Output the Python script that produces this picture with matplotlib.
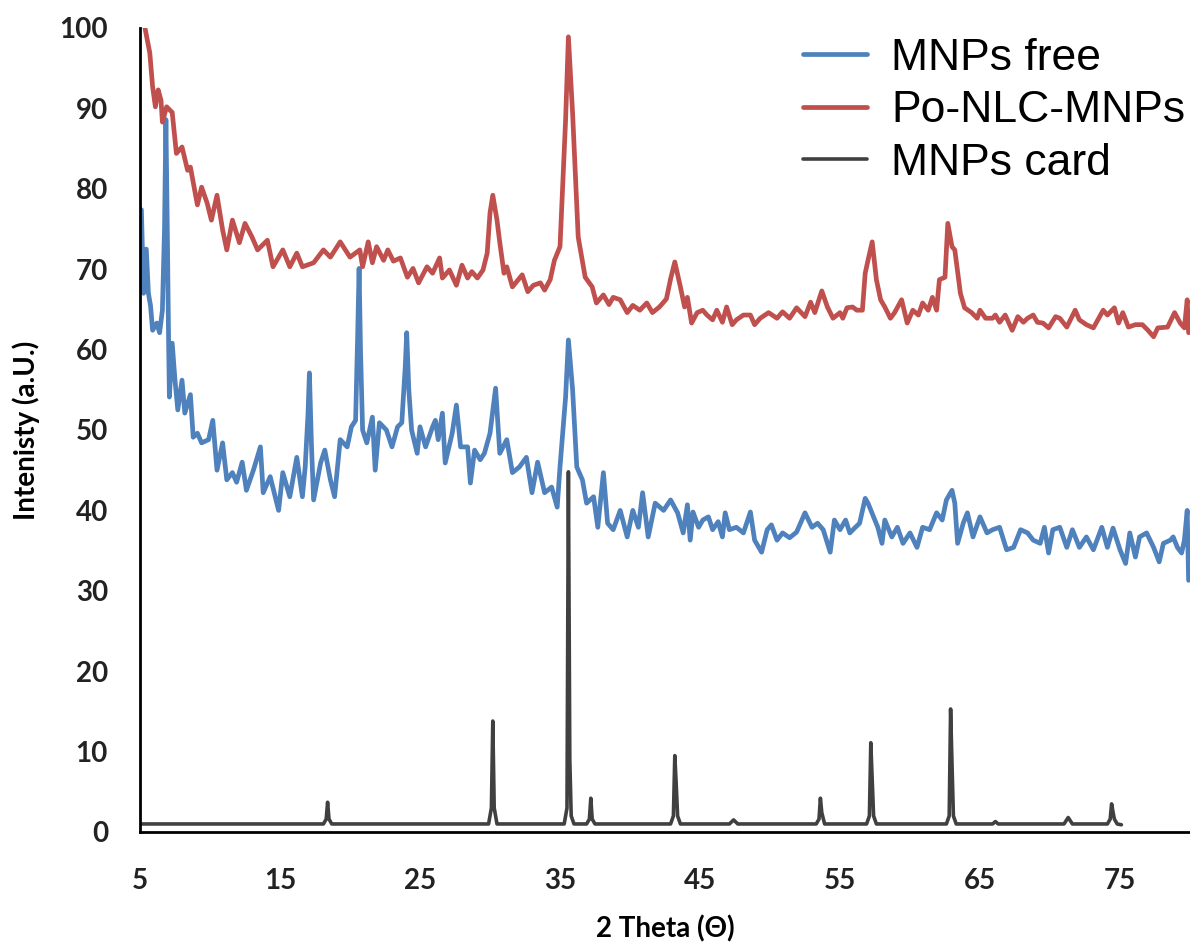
import matplotlib
matplotlib.use("Agg")
import matplotlib.pyplot as plt

# ---------------- data ----------------
red_x = [5.3, 5.7, 5.9, 6.1, 6.3, 6.5, 6.6, 6.9, 7.3, 7.6, 8.0, 8.4, 8.6, 9.1, 9.4, 9.8,
         10.1, 10.5, 10.9, 11.2, 11.6, 12.1, 12.5, 13.0, 13.4, 14.1, 14.5, 15.2, 15.7, 16.2,
         16.6, 17.4, 18.1, 18.6, 19.3, 20.0, 20.7, 20.9, 21.3, 21.6, 21.9, 22.4, 22.7, 23.1,
         23.6, 24.1, 24.5, 24.9, 25.5, 25.9, 26.4, 26.6, 27.1, 27.6, 28.0, 28.4, 28.7, 29.1,
         29.5, 29.8, 30.0, 30.2, 30.5, 30.7, 31.0, 31.2, 31.6, 32.3, 32.7, 33.1, 33.6, 33.9,
         34.3, 34.6, 35.0, 35.4, 35.6, 35.9, 36.3, 36.8, 37.3, 37.6, 38.1, 38.5, 38.8, 39.3, 39.8,
         40.2, 40.7, 41.2, 41.6, 42.1, 42.6, 42.9, 43.2, 43.6, 43.9, 44.1, 44.4, 44.8, 45.2, 45.5,
         45.9, 46.2, 46.6, 46.9, 47.3, 47.6, 48.1, 48.6, 48.9, 49.3, 49.9, 50.5, 50.9, 51.4,
         51.9, 52.5, 52.9, 53.2, 53.7, 54.1, 54.5, 55.0, 55.2, 55.5, 55.9, 56.2, 56.6, 56.8,
         57.0, 57.3, 57.6, 57.9, 58.2, 58.6, 58.9, 59.4, 59.8, 60.2, 60.6, 60.9, 61.3, 61.6,
         61.9, 62.1, 62.5, 62.7, 63.0, 63.2, 63.6, 63.9, 64.4, 64.8, 65.0, 65.4, 65.9, 66.1,
         66.4, 66.8, 67.3, 67.7, 68.1, 68.4, 68.8, 69.1, 69.5, 69.9, 70.4, 70.7, 71.2, 71.8,
         72.1, 72.6, 73.1, 73.8, 74.1, 74.6, 74.9, 75.2, 75.6, 76.1, 76.6, 77.0, 77.4, 77.7,
         78.4, 78.9, 79.3, 79.6, 79.8, 79.9]
red_y = [100.5, 96.9, 92.7, 90.2, 92.3, 91.0, 88.3, 90.2, 89.5, 84.4, 85.2, 82.3, 82.7, 78.0, 80.2, 78.2,
         76.1, 79.2, 74.9, 72.4, 76.1, 73.3, 75.7, 74.0, 72.4, 73.6, 70.3, 72.4, 70.3, 72.0,
         70.3, 70.8, 72.4, 71.5, 73.4, 71.5, 72.4, 70.3, 73.4, 70.8, 72.8, 71.1, 72.4, 71.0,
         71.4, 69.0, 70.1, 68.3, 70.3, 69.5, 71.4, 68.9, 69.9, 68.0, 70.5, 68.9, 69.7, 68.9,
         69.9, 72.0, 77.0, 79.2, 76.1, 73.3, 69.5, 70.3, 67.8, 69.3, 67.2, 68.0, 68.3, 67.4,
         68.7, 71.1, 72.8, 88.6, 98.9, 89.4, 74.0, 69.0, 67.8, 65.8, 66.8, 65.6, 66.5, 66.2, 64.6,
         65.5, 64.9, 65.8, 64.6, 65.3, 66.3, 68.8, 70.9, 67.8, 65.3, 66.5, 63.3, 64.6, 64.9, 64.3,
         63.7, 64.9, 63.4, 65.3, 63.1, 63.7, 64.3, 64.3, 63.1, 63.9, 64.6, 63.9, 64.7, 63.9,
         65.2, 64.1, 65.9, 64.6, 67.3, 65.3, 63.9, 64.6, 63.9, 65.2, 65.3, 64.9, 64.9, 69.5,
         71.1, 73.4, 68.7, 66.2, 65.3, 63.9, 64.6, 66.2, 63.3, 64.9, 64.3, 65.8, 64.9, 66.5,
         64.9, 68.7, 69.0, 75.7, 72.8, 72.4, 67.0, 65.2, 64.6, 63.9, 64.9, 63.9, 63.9, 64.3,
         63.4, 64.3, 62.4, 64.1, 63.4, 63.9, 64.3, 63.4, 63.3, 62.7, 64.1, 63.9, 62.8, 64.9,
         63.7, 63.1, 62.7, 64.9, 64.3, 65.2, 63.3, 64.6, 62.8, 63.1, 63.1, 62.4, 61.6, 62.7,
         62.8, 64.6, 63.3, 62.7, 66.2, 62.1]

blue_x = [5.1, 5.25, 5.45, 5.6, 5.75, 5.9, 6.2, 6.4, 6.6, 6.75, 6.85, 6.95, 7.05, 7.1, 7.3, 7.5,
          7.7, 8.0, 8.2, 8.6, 8.8, 9.1, 9.4, 9.9, 10.2, 10.5, 10.9, 11.2, 11.6, 11.9, 12.3, 12.6,
          13.1, 13.6, 13.8, 14.3, 14.9, 15.2, 15.7, 16.2, 16.6, 16.8, 17.0, 17.1, 17.25, 17.4,
          17.9, 18.2, 18.6, 18.9, 19.3, 19.8, 20.1, 20.4, 20.55, 20.65, 20.75, 20.9, 21.2, 21.6,
          21.8, 22.1, 22.6, 23.0, 23.4, 23.7, 23.95, 24.05, 24.2, 24.4, 24.8, 25.0, 25.4, 25.9,
          26.1, 26.3, 26.6, 26.8, 27.3, 27.6, 27.9, 28.4, 28.6, 28.9, 29.3, 29.6, 30.0, 30.4,
          30.7, 31.2, 31.6, 32.1, 32.6, 33.0, 33.4, 33.9, 34.4, 34.8, 35.0, 35.4, 35.6, 35.9,
          36.2, 36.6, 36.9, 37.4, 37.7, 38.1, 38.4, 38.8, 39.3, 39.8, 40.2, 40.6, 40.9, 41.3,
          41.8, 42.4, 42.9, 43.4, 43.8, 44.1, 44.3, 44.5, 44.9, 45.2, 45.6, 45.9, 46.3, 46.6,
          46.8, 47.1, 47.6, 48.1, 48.6, 48.9, 49.4, 49.8, 50.1, 50.5, 50.9, 51.4, 51.9, 52.5,
          53.0, 53.4, 53.8, 54.3, 54.6, 55.0, 55.4, 55.7, 56.1, 56.4, 56.8, 57.0, 57.4, 57.7,
          58.0, 58.2, 58.7, 59.1, 59.5, 60.0, 60.5, 60.9, 61.4, 61.9, 62.3, 62.6, 63.0, 63.2,
          63.4, 63.8, 64.1, 64.5, 65.0, 65.5, 65.9, 66.4, 66.9, 67.4, 67.9, 68.4, 68.8, 69.3,
          69.6, 69.9, 70.2, 70.7, 71.2, 71.6, 72.1, 72.6, 73.1, 73.7, 74.1, 74.5, 75.0, 75.4,
          75.7, 76.1, 76.4, 76.9, 77.4, 77.8, 78.1, 78.6, 78.8, 79.1, 79.4, 79.6, 79.8, 79.9]
blue_y = [77.4, 67.0, 72.5, 67.0, 65.5, 62.4, 63.3, 62.1, 64.9, 75.0, 88.6, 75.0, 60.0, 54.1, 60.8, 56.2,
          52.5, 56.2, 52.1, 54.4, 49.1, 49.6, 48.4, 48.8, 51.2, 45.0, 48.4, 43.8, 44.7, 43.5, 46.0, 42.5,
          45.0, 47.9, 42.2, 44.2, 40.0, 44.7, 41.7, 46.6, 41.7, 45.4, 52.0, 57.1, 48.0, 41.3,
          45.9, 47.5, 43.8, 41.7, 48.8, 47.9, 50.4, 51.2, 62.0, 70.1, 60.0, 50.0, 48.4, 51.6,
          45.0, 50.9, 50.0, 47.9, 50.4, 50.9, 58.0, 62.1, 55.0, 50.0, 47.1, 50.4, 47.9, 50.4,
          51.2, 48.8, 52.1, 45.9, 49.6, 53.1, 47.9, 47.9, 43.4, 47.5, 46.3, 47.1, 49.6, 55.2,
          47.1, 48.8, 44.7, 45.4, 46.6, 42.2, 46.0, 42.2, 42.9, 40.4, 45.4, 54.1, 61.2, 55.0,
          45.4, 43.8, 40.9, 41.7, 37.9, 44.7, 38.4, 37.6, 40.0, 36.7, 40.0, 37.9, 42.2, 36.7,
          40.9, 40.0, 41.3, 39.7, 37.2, 40.7, 36.3, 39.8, 37.9, 38.8, 39.2, 37.6, 38.6, 36.7,
          39.7, 37.6, 37.9, 37.2, 39.8, 36.3, 34.8, 37.6, 38.2, 36.3, 37.2, 36.6, 37.3, 39.7,
          37.9, 38.4, 37.6, 34.8, 38.8, 37.6, 38.8, 37.2, 37.9, 38.4, 41.5, 40.9, 39.2, 37.9,
          35.9, 38.8, 36.7, 37.9, 35.9, 37.2, 35.4, 37.9, 37.6, 39.7, 38.8, 41.3, 42.5, 40.9,
          35.9, 38.4, 39.7, 36.7, 39.2, 37.2, 37.6, 37.9, 35.1, 35.4, 37.6, 37.2, 36.3, 35.9,
          37.9, 34.7, 37.6, 37.9, 35.4, 37.6, 35.4, 36.7, 35.1, 37.9, 35.4, 37.8, 35.1, 33.4,
          37.2, 34.2, 36.7, 37.2, 35.4, 33.6, 35.9, 36.3, 36.7, 35.4, 34.7, 36.3, 40.0, 31.3]

card_x = [5.0, 18.1, 18.3, 18.4, 18.5, 18.7, 29.9, 30.1, 30.2, 30.3, 30.5,
          35.3, 35.5, 35.6, 35.7, 35.8, 36.0, 36.9, 37.1, 37.2, 37.3, 37.5,
          42.9, 43.1, 43.2, 43.3, 43.4, 43.6, 47.1, 47.4, 47.7,
          53.3, 53.5, 53.6, 53.7, 53.9, 56.9, 57.1, 57.2, 57.3, 57.4, 57.6,
          62.6, 62.8, 62.9, 63.0, 63.1, 63.3, 65.9, 66.1, 66.3,
          71.0, 71.3, 71.6, 74.1, 74.3, 74.4, 74.5, 74.6, 74.8, 75.1]
card_y = [1.0, 1.0, 1.6, 3.7, 1.6, 1.0, 1.0, 3.0, 13.8, 3.0, 1.0,
          1.0, 3.0, 44.8, 9.0, 2.0, 1.0, 1.0, 1.6, 4.2, 1.6, 1.0,
          1.0, 2.0, 9.5, 6.0, 2.0, 1.0, 1.0, 1.5, 1.0,
          1.0, 1.6, 4.2, 2.4, 1.0, 1.0, 2.0, 11.1, 6.5, 2.0, 1.0,
          1.0, 2.0, 15.3, 8.5, 2.0, 1.0, 1.0, 1.3, 1.0,
          1.0, 1.8, 1.0, 1.0, 1.6, 3.5, 2.5, 1.6, 1.0, 0.9]

labels = ["MNPs free", "Po-NLC-MNPs", "MNPs card"]
x_ticks = [5, 15, 25, 35, 45, 55, 65, 75]
y_ticks = [0, 10, 20, 30, 40, 50, 60, 70, 80, 90, 100]

# ---------------- plot ----------------
fig = plt.figure(figsize=(11.9, 9.5), dpi=100)
ax = fig.add_axes([140 / 1190, 1 - 832 / 950, 1050 / 1190, 804 / 950])

ax.plot(blue_x, blue_y, color="#4F81BD", lw=3.4, label=labels[0],
        solid_joinstyle="round", solid_capstyle="round")
ax.plot(red_x, red_y, color="#C0504D", lw=3.4, label=labels[1],
        solid_joinstyle="round", solid_capstyle="round")
ax.plot(card_x, card_y, color="#404040", lw=2.6, label=labels[2],
        solid_joinstyle="round", solid_capstyle="round")

ax.set_xlim(5, 80)
ax.set_ylim(0, 100)
ax.set_xticks(x_ticks)
ax.set_yticks(y_ticks)
for s in ["top", "right"]:
    ax.spines[s].set_visible(False)
for s in ["left", "bottom"]:
    ax.spines[s].set_linewidth(2.0)
    ax.spines[s].set_color("black")
ax.tick_params(axis="both", length=0, labelsize=20, colors="#222222")
ax.tick_params(axis="x", pad=26)
ax.tick_params(axis="y", pad=23)
for lab in ax.get_xticklabels() + ax.get_yticklabels():
    lab.set_fontfamily("Lato")
    lab.set_fontweight("bold")

ax.set_xlabel("2 Theta (\u0398)", fontsize=20, fontweight="bold", family="Lato", labelpad=15)
ax.set_ylabel("Intenisty (a.U.)", fontsize=20, fontweight="bold", family="Lato", labelpad=14)

leg = ax.legend(loc="upper left", bbox_to_anchor=(0.631, 0.988), frameon=False,
                prop={"family": "Liberation Sans", "size": 32}, handlelength=1.45,
                handletextpad=0.55, labelspacing=0.26, borderpad=0.0, borderaxespad=0.0)

fig.savefig("out.png", dpi=100)
